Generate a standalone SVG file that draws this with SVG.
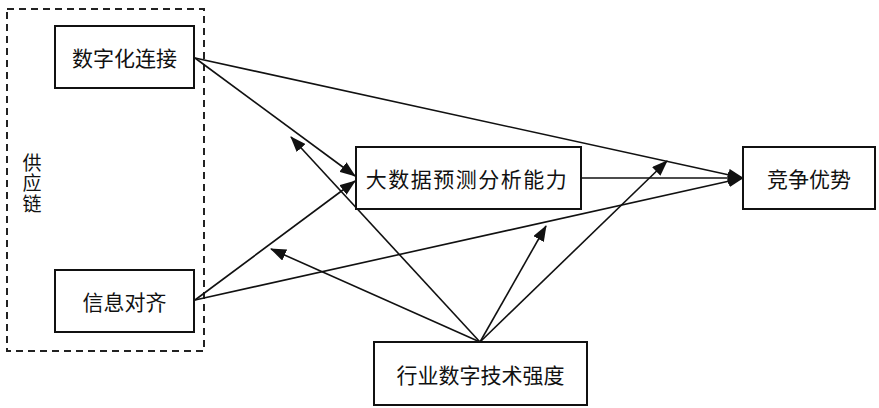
<svg xmlns="http://www.w3.org/2000/svg" width="879" height="408" viewBox="0 0 879 408">
<style>
.box{fill:#fff;stroke:#111;stroke-width:2}
.lbl{font-family:"Noto Sans CJK SC","Noto Sans",sans-serif;font-size:21px;fill:#111;text-anchor:middle;dominant-baseline:central}
.vt{font-family:"Noto Sans CJK SC","Noto Sans",sans-serif;font-size:19px;fill:#111;writing-mode:vertical-rl;text-orientation:upright;letter-spacing:1.5px}
.ln{stroke:#111;stroke-width:1.6;fill:none;marker-end:url(#ah)}
</style>
<defs>
<marker id="ah" markerUnits="userSpaceOnUse" markerWidth="16" markerHeight="12" viewBox="0 0 16 12" refX="15" refY="6" orient="auto">
<path d="M0,0 L16,6 L0,12 Z" fill="#111"/>
</marker>
</defs>
<g id="supply-chain">
<rect x="7" y="9" width="197" height="342" fill="none" stroke="#222" stroke-width="2" stroke-dasharray="7,5"/>
<text class="vt" x="32" y="153">供应链</text>
</g>
<g id="connectors">
<line class="ln" x1="195" y1="58" x2="743" y2="178"/>
<line class="ln" x1="195" y1="58" x2="355" y2="176"/>
<line class="ln" x1="195" y1="300" x2="355" y2="181"/>
<line class="ln" x1="195" y1="300" x2="743" y2="178"/>
<line class="ln" x1="581" y1="178" x2="743" y2="178"/>
<line class="ln" x1="480" y1="342" x2="291" y2="137"/>
<line class="ln" x1="480" y1="342" x2="271" y2="249"/>
<line class="ln" x1="480" y1="342" x2="546" y2="226"/>
<line class="ln" x1="480" y1="342" x2="667" y2="161"/>
</g>
<g id="node-digital">
<rect class="box" x="55" y="26" width="139" height="62"/>
<text class="lbl" x="124.5" y="57">数字化连接</text>
</g>
<g id="node-info">
<rect class="box" x="55" y="270" width="139" height="62"/>
<text class="lbl" x="124.5" y="301">信息对齐</text>
</g>
<g id="node-bigdata">
<rect class="box" x="356" y="147" width="225" height="62"/>
<text class="lbl" x="467" y="178" style="letter-spacing:1.5px">大数据预测分析能力</text>
</g>
<g id="node-advantage">
<rect class="box" x="743" y="147" width="132" height="62"/>
<text class="lbl" x="809" y="178">竞争优势</text>
</g>
<g id="node-industry">
<rect class="box" x="374" y="342" width="213" height="63"/>
<text class="lbl" x="480.5" y="373.5">行业数字技术强度</text>
</g>
</svg>
